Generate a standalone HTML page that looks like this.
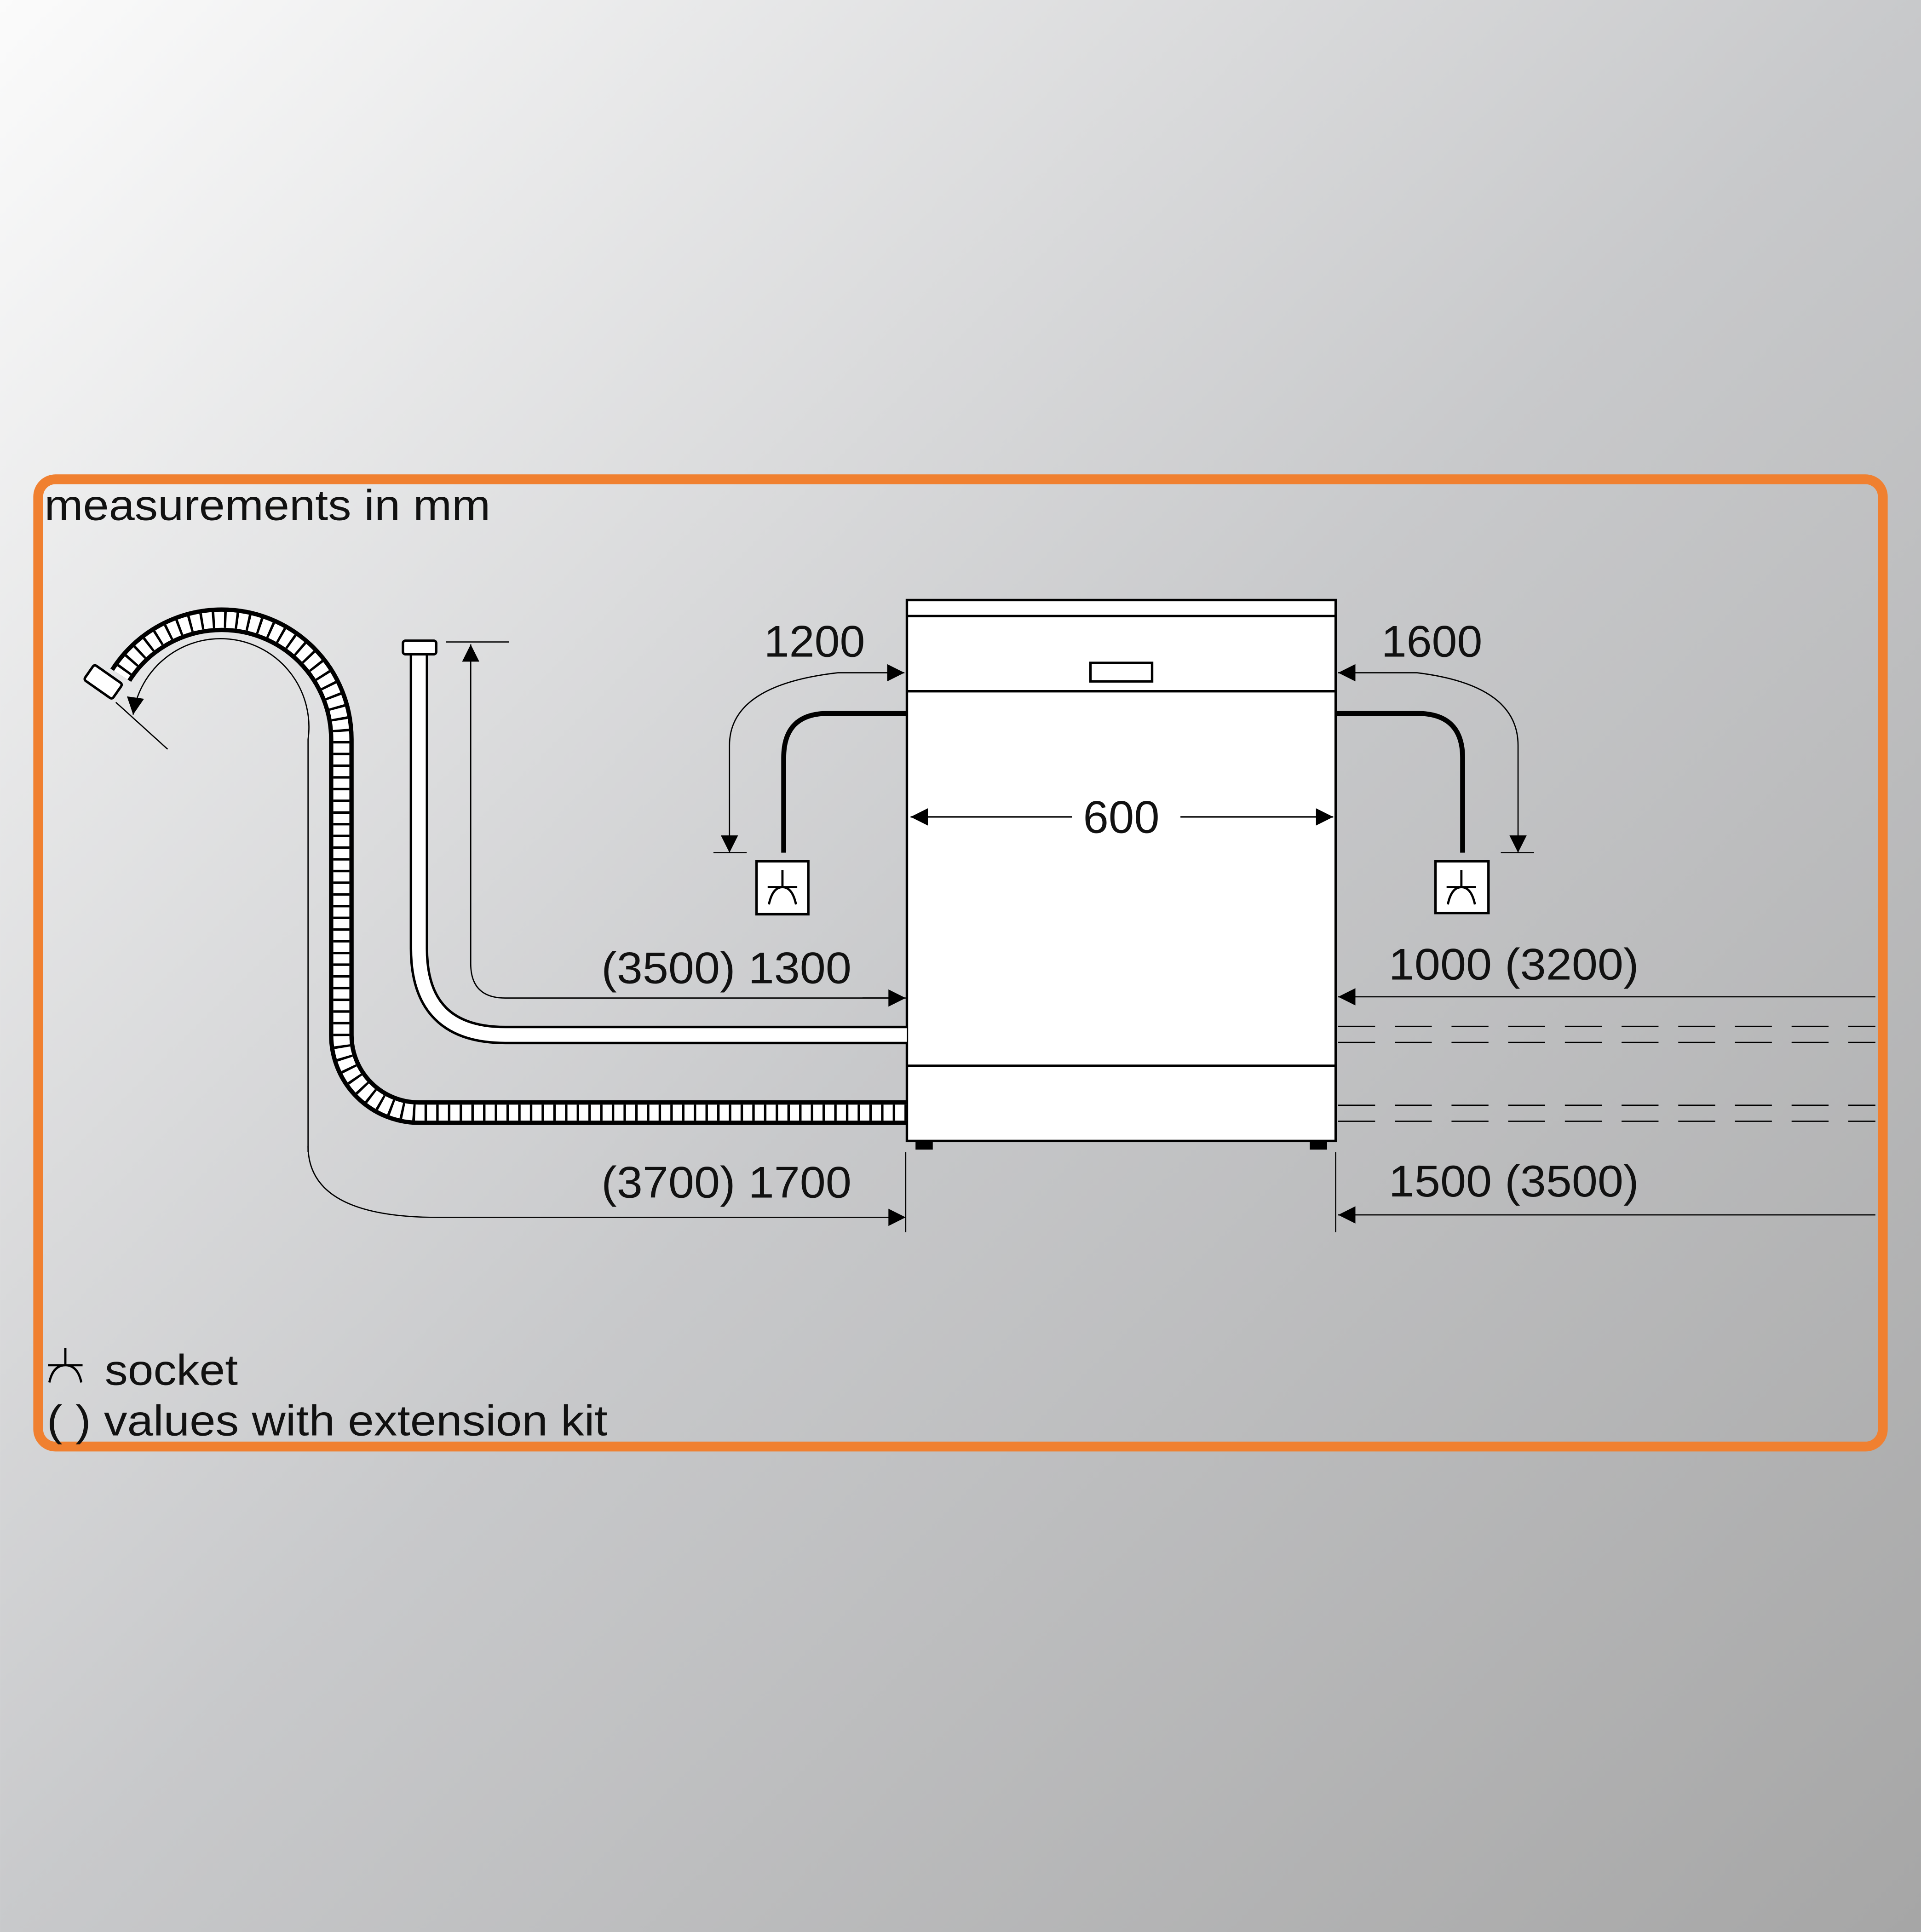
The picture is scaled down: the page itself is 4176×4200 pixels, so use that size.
<!DOCTYPE html>
<html><head><meta charset="utf-8"><style>
html,body{margin:0;padding:0;width:4176px;height:4200px;overflow:hidden}
svg{display:block}
text{font-family:"Liberation Sans",sans-serif;fill:#111}
</style></head><body>
<svg width="4176" height="4200" viewBox="0 0 1559 1568" xmlns="http://www.w3.org/2000/svg">
<defs>
<linearGradient id="bg" x1="0" y1="0" x2="1" y2="1">
<stop offset="0" stop-color="#fbfbfb"/><stop offset="0.5" stop-color="#c8c9cb"/><stop offset="1" stop-color="#a6a6a6"/>
</linearGradient>
<marker id="ar" viewBox="0 0 10 10" refX="10" refY="5" markerWidth="19" markerHeight="14" markerUnits="userSpaceOnUse" orient="auto"><path d="M0,0 L10,5 L0,10 z" fill="#000"/></marker>
</defs>
<rect width="1559" height="1568" fill="url(#bg)"/>
<rect x="31" y="389" width="1497" height="785" rx="14" fill="none" stroke="#f08030" stroke-width="8"/>
<text x="36" y="422" font-size="35" textLength="362" lengthAdjust="spacingAndGlyphs">measurements in mm</text>

<!-- dishwasher -->
<rect x="736" y="487" width="348" height="439" fill="#fff" stroke="#000" stroke-width="2"/>
<line x1="736" y1="500" x2="1084" y2="500" stroke="#000" stroke-width="2"/>
<line x1="736" y1="561" x2="1084" y2="561" stroke="#000" stroke-width="2"/>
<line x1="736" y1="865" x2="1084" y2="865" stroke="#000" stroke-width="2"/>
<rect x="885" y="538" width="50" height="15" fill="#fff" stroke="#000" stroke-width="2"/>
<rect x="743" y="926" width="14" height="7" fill="#000"/>
<rect x="1063" y="926" width="14" height="7" fill="#000"/>
<line x1="870" y1="663" x2="739" y2="663" stroke="#000" stroke-width="1.2" marker-end="url(#ar)"/>
<line x1="958" y1="663" x2="1082" y2="663" stroke="#000" stroke-width="1.2" marker-end="url(#ar)"/>
<text x="879" y="676" font-size="37" textLength="62" lengthAdjust="spacingAndGlyphs">600</text>

<!-- cables -->
<path d="M736 579 L672 579 Q636 579 636 615 L636 692" fill="none" stroke="#000" stroke-width="4"/>
<path d="M1084 579 L1150 579 Q1187 579 1187 615 L1187 692" fill="none" stroke="#000" stroke-width="4"/>
<g fill="#fff" stroke="#000" stroke-width="2">
<rect x="614" y="699" width="42" height="43"/><rect x="1165" y="699" width="43" height="42"/>
</g>
<g fill="none" stroke="#000" stroke-width="1.8">
<path d="M635 706 L635 720 M623 720 L647 720 M624 734 Q627 720 635 720 Q643 720 646 734"/>
<path d="M1186 706 L1186 720 M1174 720 L1198 720 M1175 734 Q1178 720 1186 720 Q1194 720 1197 734"/>
</g>

<!-- 1200 / 1600 -->
<text x="620" y="533" font-size="36" textLength="82" lengthAdjust="spacingAndGlyphs">1200</text>
<text x="1121" y="533" font-size="36" textLength="82" lengthAdjust="spacingAndGlyphs">1600</text>
<path d="M680 546 L734 546" stroke="#000" stroke-width="1" marker-end="url(#ar)"/>
<path d="M680 546 Q592 556 592 605 L592 692" fill="none" stroke="#000" stroke-width="1" marker-end="url(#ar)"/>
<line x1="579" y1="692" x2="606" y2="692" stroke="#000" stroke-width="1"/>
<path d="M1150 546 L1086 546" stroke="#000" stroke-width="1" marker-end="url(#ar)"/>
<path d="M1150 546 Q1232 556 1232 605 L1232 692" fill="none" stroke="#000" stroke-width="1" marker-end="url(#ar)"/>
<line x1="1218" y1="692" x2="1245" y2="692" stroke="#000" stroke-width="1"/>

<!-- inlet hose -->
<path d="M340 531 L340 770 Q340 840 410 840 L736 840" fill="none" stroke="#000" stroke-width="15"/>
<path d="M340 531 L340 770 Q340 840 410 840 L736 840" fill="none" stroke="#fff" stroke-width="11"/>
<rect x="327" y="520" width="27" height="11" rx="2" fill="#fff" stroke="#000" stroke-width="2"/>
<line x1="362" y1="521" x2="413" y2="521" stroke="#000" stroke-width="1"/>
<path d="M734 810 L410 810 Q382 810 382 782 L382 523" fill="none" stroke="#000" stroke-width="1" marker-end="url(#ar)"/>
<path d="M700 810 L735 810" stroke="#000" stroke-width="1" marker-end="url(#ar)"/>
<text x="488" y="798" font-size="36" textLength="203" lengthAdjust="spacingAndGlyphs">(3500) 1300</text>

<!-- drain hose -->
<path d="M736 903 L340 903 A63 63 0 0 1 277 840 L277 600 A97 97 0 0 0 180 503 A97 97 0 0 0 98 548" fill="none" stroke="#000" stroke-width="20"/>
<path d="M736 903 L340 903 A63 63 0 0 1 277 840 L277 600 A97 97 0 0 0 180 503 A97 97 0 0 0 98 548" fill="none" stroke="#fff" stroke-width="13"/>
<path d="M736 903 L340 903 A63 63 0 0 1 277 840 L277 600 A97 97 0 0 0 180 503 A97 97 0 0 0 98 548" fill="none" stroke="#000" stroke-width="13" stroke-dasharray="2 7.5"/>
<rect x="70" y="546" width="28" height="15" rx="2" transform="rotate(35 84 553)" fill="#fff" stroke="#000" stroke-width="2"/>
<path d="M250 935 L250 600 A70 70 0 0 0 108 580" fill="none" stroke="#000" stroke-width="1" marker-end="url(#ar)"/>
<path d="M250 930 Q250 988 355 988 L735 988" fill="none" stroke="#000" stroke-width="1" marker-end="url(#ar)"/>
<line x1="94" y1="570" x2="136" y2="608" stroke="#000" stroke-width="1"/>
<text x="488" y="972" font-size="36" textLength="203" lengthAdjust="spacingAndGlyphs">(3700) 1700</text>

<!-- right dims -->
<line x1="735" y1="935" x2="735" y2="1000" stroke="#000" stroke-width="1"/>
<line x1="1084" y1="935" x2="1084" y2="1000" stroke="#000" stroke-width="1"/>
<text x="1127" y="795" font-size="36" textLength="203" lengthAdjust="spacingAndGlyphs">1000 (3200)</text>
<text x="1127" y="971" font-size="36" textLength="203" lengthAdjust="spacingAndGlyphs">1500 (3500)</text>
<path d="M1522 809 L1086 809" stroke="#000" stroke-width="1" marker-end="url(#ar)"/>
<path d="M1522 986 L1086 986" stroke="#000" stroke-width="1" marker-end="url(#ar)"/>
<g stroke="#000" stroke-width="1" stroke-dasharray="30 16">
<line x1="1086" y1="833" x2="1522" y2="833"/><line x1="1086" y1="846" x2="1522" y2="846"/>
<line x1="1086" y1="897" x2="1522" y2="897"/><line x1="1086" y1="910" x2="1522" y2="910"/>
</g>

<!-- legend -->
<path d="M53 1094 L53 1108 M39 1108 L67 1108 M40 1122 Q43 1108 53 1108 Q63 1108 66 1122" fill="none" stroke="#000" stroke-width="1.8"/>
<text x="85" y="1124" font-size="35" textLength="108" lengthAdjust="spacingAndGlyphs">socket</text>
<text x="38" y="1165" font-size="35" textLength="455" lengthAdjust="spacingAndGlyphs">( ) values with extension kit</text>
</svg>
</body></html>
